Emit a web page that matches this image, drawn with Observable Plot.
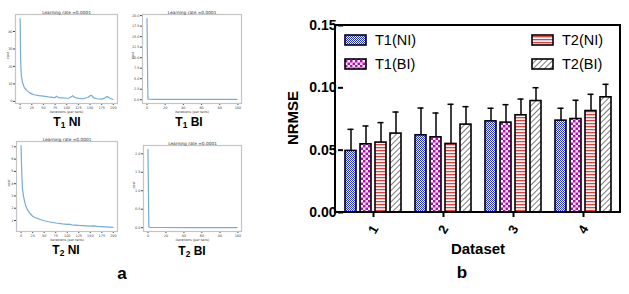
<!DOCTYPE html>
<html>
<head>
<meta charset="utf-8">
<script src="https://cdn.jsdelivr.net/npm/d3@7"></script>
<script src="https://cdn.jsdelivr.net/npm/@observablehq/plot@0.6"></script>
<style>
  html, body { margin: 0; padding: 0; background: #fff; }
  #root { position: relative; width: 629px; height: 294px; overflow: hidden; background: #fff; font-family: "Liberation Sans", Arial, sans-serif; }
  #root svg { position: absolute; }
  .lab { position: absolute; transform: translate(-50%, -50%); white-space: nowrap; font-weight: bold; color: #000; line-height: 1; }
  .lab sub { font-size: 0.7em; vertical-align: -0.25em; }
</style>
</head>
<body>
<div id="root"></div>
<script>
// ---------------- Data: bar chart (b) ----------------
const datasets = ["1", "2", "3", "4"];
const series = ["T1(NI)", "T1(BI)", "T2(NI)", "T2(BI)"];
const t1niMean = [0.0494, 0.0619, 0.0731, 0.0737];
const t1niSd   = [0.0173, 0.0219, 0.0105, 0.0099];
const t1biMean = [0.0547, 0.0603, 0.0721, 0.0750];
const t1biSd   = [0.0147, 0.0195, 0.0144, 0.0150];
const t2niMean = [0.0561, 0.0550, 0.0780, 0.0814];
const t2niSd   = [0.0160, 0.0318, 0.0130, 0.0134];
const t2biMean = [0.0633, 0.0705, 0.0894, 0.0924];
const t2biSd   = [0.0173, 0.0144, 0.0107, 0.0104];
const yTickValues = [0, 0.05, 0.10, 0.15];

// ---------------- Data: loss curves (a) ----------------
const lrTitle = "Learning rate =0.0001";
const t1niIter = [0, 1, 2, 3, 5, 8, 10, 15, 20, 25, 30, 40, 50, 60, 70, 75, 78, 82, 90, 100, 105, 110, 113, 117, 125, 135, 145, 150, 153, 158, 165, 175, 180, 185, 188, 192, 199];
const t1niCost = [47.4, 25, 17, 14, 11, 8.5, 7.5, 6, 5, 4.3, 3.8, 3.3, 3.0, 2.6, 2.3, 2.2, 3.0, 2.2, 2.0, 1.8, 1.9, 2.6, 3.3, 2.2, 1.7, 1.5, 2.2, 3.2, 3.5, 2.0, 1.5, 1.3, 1.7, 2.6, 2.7, 1.9, 1.1];
const t1biIter = [0, 1, 2, 10, 50, 99];
const t1biCost = [19.3, 0.2, 0.15, 0.1, 0.08, 0.07];
const t2niIter = [0, 1, 2, 3, 5, 8, 10, 15, 20, 25, 30, 40, 50, 60, 75, 90, 100, 105, 110, 125, 150, 158, 165, 175, 199];
const t2niCost = [7.1, 5.5, 4.3, 3.6, 3.0, 2.5, 2.2, 1.8, 1.55, 1.35, 1.25, 1.1, 0.98, 0.9, 0.8, 0.72, 0.68, 0.7, 0.65, 0.6, 0.55, 0.57, 0.52, 0.5, 0.44];
const t2biIter = [0, 1, 2, 10, 50, 99];
const t2biCost = [2.12, 0.02, 0.01, 0.005, 0.003, 0.002];

const root = document.getElementById("root");

function addLabel(html, x, y, size) {
  const d = document.createElement("div");
  d.className = "lab";
  d.style.left = x + "px";
  d.style.top = y + "px";
  d.style.fontSize = size + "px";
  d.innerHTML = html;
  root.appendChild(d);
  return d;
}

// ---------------- Small loss charts ----------------
function lossChart(o) {
  const data = o.iter.map((x, i) => ({x, y: o.cost[i]}));
  const xs = d3.extent(o.iter), ys = d3.extent(o.cost);
  const xm = (xs[1] - xs[0]) * 0.05, ym = (ys[1] - ys[0]) * 0.05;
  const svg = Plot.plot({
    width: o.width, height: o.height,
    marginLeft: o.ml, marginRight: o.mr, marginTop: o.mt, marginBottom: o.mb,
    style: {fontFamily: "DejaVu Sans", fontSize: "3.4px", color: "#444", background: "transparent", overflow: "visible"},
    x: {domain: [xs[0] - xm, xs[1] + xm], ticks: o.xTicks, tickSize: 2, tickPadding: 1, label: null, tickFormat: d3.format("d")},
    y: {domain: [ys[0] - ym, ys[1] + ym], ticks: o.yTicks, tickSize: 2, tickPadding: 1, label: null, tickFormat: o.yFormat},
    marks: [
      Plot.frame({stroke: "#c4c4c4", strokeWidth: 1.2}),
      Plot.line(data, {x: "x", y: "y", stroke: "#74acdb", strokeWidth: 1.2}),
      Plot.text([lrTitle], {frameAnchor: "top", dy: -4, fontSize: 4.3, fill: "#333"}),
      Plot.text(["cost"], {frameAnchor: "left", rotate: -90, dx: o.ylabDx, fontSize: 3.4, fill: "#333"}),
      Plot.text(["iterations (per tens)"], {frameAnchor: "bottom", dy: 9.5, fontSize: 3.4, fill: "#333"})
    ]
  });
  svg.style.left = o.left + "px";
  svg.style.top = o.top + "px";
  root.appendChild(svg);
}

lossChart({iter: t1niIter, cost: t1niCost, xTicks: [0,25,50,75,100,125,150,175,200], yTicks: [0,10,20,30,40], yFormat: d3.format("d"),
  left: 0, top: 0, width: 125, height: 118, ml: 15, mr: 8, mt: 14, mb: 15, ylabDx: -8});
lossChart({iter: t1biIter, cost: t1biCost, xTicks: [0,20,40,60,80,100], yTicks: [0,2.5,5,7.5,10,12.5,15,17.5,20], yFormat: d3.format(".1f"),
  left: 125, top: 0, width: 125, height: 118, ml: 17, mr: 9, mt: 14, mb: 15, ylabDx: -10});
lossChart({iter: t2niIter, cost: t2niCost, xTicks: [0,25,50,75,100,125,150,175,200], yTicks: [1,2,3,4,5,6,7], yFormat: d3.format("d"),
  left: 0, top: 127, width: 125, height: 118, ml: 16, mr: 8, mt: 14, mb: 14, ylabDx: -8});
lossChart({iter: t2biIter, cost: t2biCost, xTicks: [0,20,40,60,80,100], yTicks: [0,0.5,1,1.5,2], yFormat: d3.format(".1f"),
  left: 125, top: 127, width: 125, height: 118, ml: 18, mr: 9, mt: 18, mb: 14, ylabDx: -10});

addLabel("T<sub>1</sub> NI", 67, 123, 12);
addLabel("T<sub>1</sub> BI", 189, 123, 12);
addLabel("T<sub>2</sub> NI", 66, 251, 12);
addLabel("T<sub>2</sub> BI", 192, 252, 12);
addLabel("a", 122, 273, 17);

// ---------------- Bar chart ----------------
const patternIds = ["pBlue", "pMag", "pRed", "pHatch"];
const means = [t1niMean, t1biMean, t2niMean, t2biMean];
const sds = [t1niSd, t1biSd, t2niSd, t2biSd];
const rows = [];
datasets.forEach((ds, j) => series.forEach((s, i) => {
  rows.push({dataset: ds, series: s, mean: means[i][j], top: means[i][j] + sds[i][j]});
}));

const W = 339, H = 260, ML = 45, MR = 9, MT = 25, MB = 48;
const bar = Plot.plot({
  width: W, height: H, marginLeft: ML, marginRight: MR, marginTop: MT, marginBottom: MB,
  style: {fontFamily: "Liberation Sans, Arial, sans-serif", fontSize: "13px", fontWeight: "bold", color: "#000", background: "transparent", overflow: "visible"},
  fx: {domain: datasets, paddingInner: 0.15, paddingOuter: 0.1, label: null},
  x: {domain: series, paddingInner: 0.27, paddingOuter: 0.135, axis: null},
  y: {domain: [0, 0.15], label: null},
  color: {type: "ordinal", domain: series, range: patternIds.map(id => `url(#${id})`)},
  marks: [
    Plot.ruleX(rows, {fx: "dataset", x: "series", y1: "mean", y2: "top", stroke: "#000", strokeWidth: 1.5}),
    Plot.tickY(rows, {fx: "dataset", x: "series", y: "top", stroke: "#000", strokeWidth: 1.5, insetLeft: 2.5, insetRight: 2.5}),
    Plot.barY(rows, {fx: "dataset", x: "series", y: "mean", fill: "series", stroke: "#000", strokeWidth: 1.6, inset: 0}),
    Plot.axisY({ticks: yTickValues, tickFormat: d3.format(".2f"), tickSize: 5, tickPadding: 2, strokeWidth: 2, label: null, fontSize: 14}),
    Plot.axisFx({anchor: "bottom", tickSize: 5, tickPadding: 12, strokeWidth: 2, tickRotate: -60, textAnchor: "middle", label: null, fontSize: 13})
  ]
});
bar.style.left = "290px";
bar.style.top = "0px";

// pattern definitions
const defs = d3.select(bar).insert("defs", ":first-child");
const pb = defs.append("pattern").attr("id", "pBlue").attr("patternUnits", "userSpaceOnUse").attr("width", 2).attr("height", 2);
pb.append("rect").attr("width", 2).attr("height", 2).attr("fill", "#ffffff");
pb.append("rect").attr("width", 1).attr("height", 1).attr("fill", "#1f2cff");
pb.append("rect").attr("x", 1).attr("y", 1).attr("width", 1).attr("height", 1).attr("fill", "#1f2cff");
const pm = defs.append("pattern").attr("id", "pMag").attr("patternUnits", "userSpaceOnUse").attr("width", 5).attr("height", 5);
pm.append("rect").attr("width", 5).attr("height", 5).attr("fill", "#ffffff");
pm.append("rect").attr("width", 2.5).attr("height", 2.5).attr("fill", "#c400c4");
pm.append("rect").attr("x", 2.5).attr("y", 2.5).attr("width", 2.5).attr("height", 2.5).attr("fill", "#c400c4");
const pr = defs.append("pattern").attr("id", "pRed").attr("patternUnits", "userSpaceOnUse").attr("width", 4).attr("height", 3);
pr.append("rect").attr("width", 4).attr("height", 3).attr("fill", "#ffffff");
pr.append("rect").attr("width", 4).attr("height", 1.3).attr("fill", "#ef3b3b");
const ph = defs.append("pattern").attr("id", "pHatch").attr("patternUnits", "userSpaceOnUse").attr("width", 4).attr("height", 4).attr("patternTransform", "rotate(45)");
ph.append("rect").attr("width", 4).attr("height", 4).attr("fill", "#ffffff");
ph.append("line").attr("x1", 0).attr("y1", 0).attr("x2", 0).attr("y2", 4).attr("stroke", "#333").attr("stroke-width", 1.3);

// frame around plot area
const sel = d3.select(bar);
sel.append("rect").attr("x", ML).attr("y", MT).attr("width", W - ML - MR).attr("height", H - MT - MB)
  .attr("fill", "none").attr("stroke", "#000").attr("stroke-width", 2);

// legend inside frame
const leg = sel.append("g").attr("font-family", "Liberation Sans, Arial, sans-serif").attr("font-size", 14.5)
  .attr("font-weight", "normal").attr("text-anchor", "start");
const legPos = [[ML + 10, MT + 10], [ML + 10, MT + 34], [ML + 197, MT + 10], [ML + 197, MT + 34]];
series.forEach((s, i) => {
  const [lx, ly] = legPos[i];
  leg.append("rect").attr("x", lx).attr("y", ly).attr("width", 21).attr("height", 10)
    .attr("fill", `url(#${patternIds[i]})`).attr("stroke", "#000").attr("stroke-width", 1.6);
  leg.append("text").attr("x", lx + 30).attr("y", ly + 5).attr("dy", "0.36em").attr("fill", "#000").text(s);
});

root.appendChild(bar);

addLabel("NRMSE", 292, 118, 15).style.transform = "translate(-50%, -50%) rotate(-90deg)";
addLabel("Dataset", 478, 248, 15);
addLabel("b", 462, 272, 17);
</script>
</body>
</html>
